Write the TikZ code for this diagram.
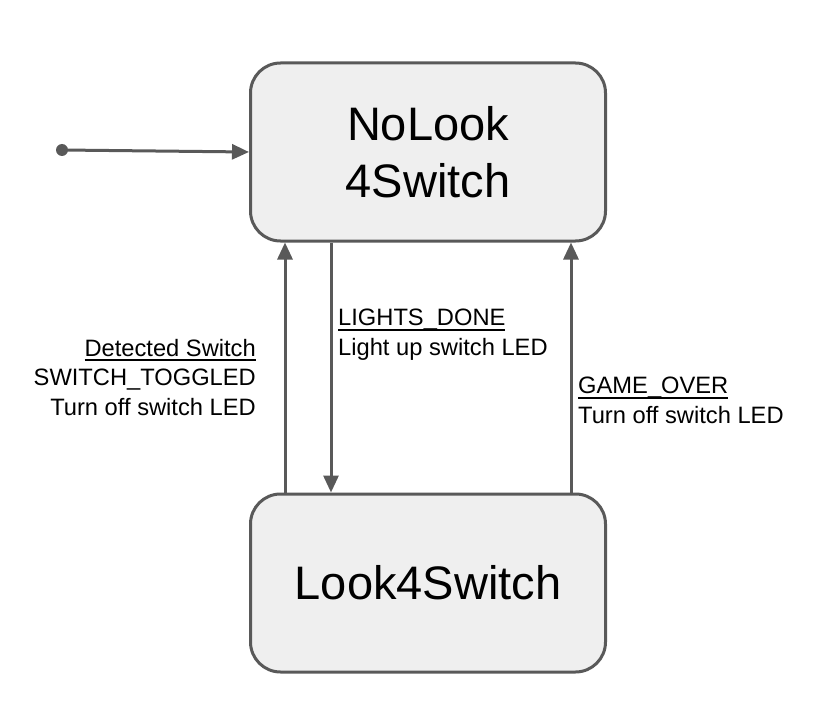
\documentclass[tikz,border=0pt]{standalone}
\usepackage{fontspec}
\setmainfont{Liberation Sans}
\usetikzlibrary{arrows.meta}
\definecolor{edgegray}{HTML}{595959}
\definecolor{boxfill}{HTML}{EFEFEF}
\newcommand{\trigger}[1]{\leavevmode\vtop{\hbox{\smash{#1}}\kern3pt\hrule height 2pt}}
\tikzset{
  state/.style={draw=edgegray, fill=boxfill, line width=3pt, rounded corners=30pt,
    minimum width=355pt, minimum height=178pt, align=center,
    font=\fontsize{47}{57}\selectfont},
  trans/.style={draw=edgegray, line width=3pt, -{Triangle[length=17pt,width=15pt]}},
  lbl/.style={inner sep=0pt, font=\fontsize{23.7}{29.5}\selectfont}
}
\begin{document}
\begin{tikzpicture}[x=1pt,y=-1pt]
  \useasboundingbox (0,0) rectangle (828,706);
  % states
  \node[state] (nolook) at (428,152) {NoLook\\4Switch};
  \node[state] (look) at (428,583) {Look4Switch};
  % initial transition
  \coordinate (start) at (62,150);
  \fill[edgegray] (start) circle (6pt);
  \draw[trans] (start) -- (nolook.west);
  % transitions between the states
  \draw[trans] (look.north -| 285,0) -- (nolook.south -| 285,0);
  \draw[trans] (nolook.south -| 331,0) -- (look.north -| 331,0);
  \draw[trans] (look.north -| 571,0) -- (nolook.south -| 571,0);
  % labels (base anchor = last line)
  \node[lbl, anchor=base east, align=right] (detlbl) at (256,415)
    {\trigger{Detected Switch}\\SWITCH\_TOGGLED\\Turn off switch LED};
  \node[lbl, anchor=base west, align=left] (donelbl) at (338,355)
    {\trigger{LIGHTS\_DONE}\\Light up switch LED};
  \node[lbl, anchor=base west, align=left] (overlbl) at (578,423)
    {\trigger{GAME\_OVER}\\Turn off switch LED};
\end{tikzpicture}
\end{document}
